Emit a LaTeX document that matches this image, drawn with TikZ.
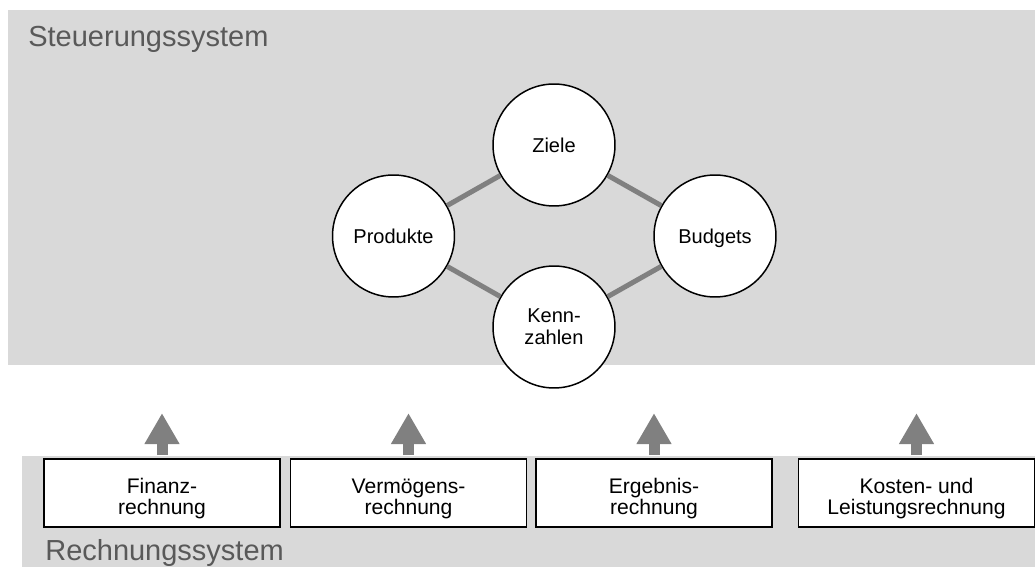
\documentclass[tikz,border=0pt]{standalone}
\usepackage{fontspec}
\setmainfont{Liberation Sans}
\usepackage{xcolor}
\usetikzlibrary{arrows.meta,calc}
\definecolor{bggray}{HTML}{D9D9D9}
\definecolor{linegray}{HTML}{808080}
\definecolor{labelgray}{HTML}{595959}

\begin{document}
\begin{tikzpicture}[x=0.02cm,y=-0.02cm,
  kreis/.style={circle,draw=black,line width=0.85pt,fill=white,minimum size=2.44cm,inner sep=0pt,align=center,font=\fontsize{11.4}{12.5}\selectfont},
  kasten/.style={rectangle,draw=black,line width=1pt,fill=white,minimum width=4.72cm,minimum height=1.36cm,inner sep=0pt,align=center,font=\fontsize{12}{12}\selectfont,execute at begin node={\rule{0pt}{27pt}}},
  verbindung/.style={linegray,line width=0.1cm},
  pfeil/.style={linegray,line width=0.22cm,shorten <=0.06cm,-{Triangle[width=0.66cm,length=0.62cm]}},
  systemtext/.style={labelgray,anchor=base west,inner sep=0pt,font=\fontsize{16.5}{18}\selectfont}]
\useasboundingbox (0,0) rectangle (1035,567);
% Hintergrundflaechen
\fill[bggray] (8,10) rectangle (1035,365.5);
\fill[bggray] (22,456) rectangle (1035,567);
\node[systemtext] (steuer) at (28,47){Steuerungssystem};
\node[systemtext] (rechnung) at (45,561){Rechnungssystem};
% Kreise
\node[kreis] (ziele) at (554,145){Ziele};
\node[kreis] (produkte) at (393.5,236){Produkte};
\node[kreis,text depth=0pt] (budgets) at (715,236){Budgets};
\node[kreis] (kennzahlen) at (554,327){Kenn-\\zahlen};
\draw[verbindung] (produkte)--(ziele);
\draw[verbindung] (ziele)--(budgets);
\draw[verbindung] (produkte)--(kennzahlen);
\draw[verbindung] (kennzahlen)--(budgets);
% Kaesten
\node[kasten] (finanz) at (162,493){Finanz-\\rechnung};
\node[kasten] (vermoegen) at (408.5,493){Verm\"ogens-\\rechnung};
\node[kasten] (ergebnis) at (654,493){Ergebnis-\\rechnung};
\node[kasten] (kosten) at (916.5,493){Kosten- und\\Leistungsrechnung};
\foreach \k in {finanz,vermoegen,ergebnis,kosten}{
  \coordinate (\k-spitze) at ($(\k.north)+(0,-45)$);
  \draw[pfeil] (\k.north)--(\k-spitze);
}
\end{tikzpicture}
\end{document}
